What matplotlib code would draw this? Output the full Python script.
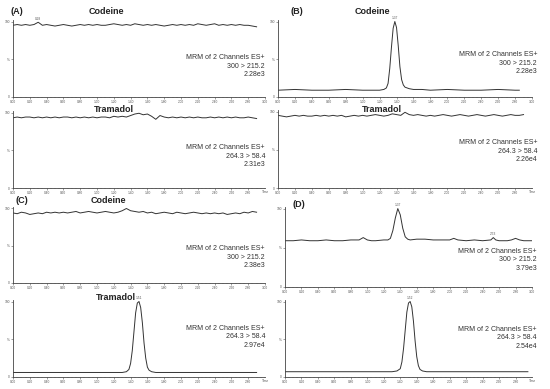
import numpy as np
import matplotlib.pyplot as plt

plt.rcParams['font.family'] = ['Liberation Sans', 'DejaVu Sans']

# chromatogram traces (time in min, intensity in %)
t_base = [0.00, 0.05, 0.10, 0.15, 0.20, 0.25, 0.30, 0.35, 0.40, 0.45,
          0.50, 0.55, 0.60, 0.65, 0.70, 0.75, 0.80, 0.85, 0.90, 0.95,
          1.00, 1.05, 1.10, 1.15, 1.20, 1.25, 1.30, 1.35, 1.40, 1.45,
          1.50, 1.55, 1.60, 1.65, 1.70, 1.75, 1.80, 1.85, 1.90, 1.95,
          2.00, 2.05, 2.10, 2.15, 2.20, 2.25, 2.30, 2.35, 2.40, 2.45,
          2.50, 2.55, 2.60, 2.65, 2.70, 2.75, 2.80, 2.85, 2.90]

a_cod = [95, 96, 95, 96, 95, 96, 99, 95, 96, 95,
         94, 95, 96, 95, 94, 95, 96, 95, 96, 95,
         96, 95, 95, 96, 97, 96, 95, 96, 95, 97,
         96, 95, 96, 95, 96, 95, 94, 95, 96, 95,
         96, 95, 96, 95, 97, 96, 95, 96, 97, 95,
         96, 95, 96, 95, 96, 95, 95, 94, 93]
a_tram = [93, 94, 93, 94, 94, 93, 94, 93, 94, 93,
          94, 93, 94, 94, 93, 94, 93, 94, 93, 94,
          93, 94, 94, 93, 95, 94, 95, 94, 96, 98,
          99, 97, 98, 95, 91, 96, 94, 93, 94, 93,
          94, 93, 94, 93, 94, 93, 93, 94, 93, 94,
          93, 94, 93, 94, 93, 93, 94, 93, 92]
b_tram = [95, 94, 93, 94, 95, 94, 95, 94, 94, 95,
          94, 95, 94, 95, 94, 95, 93, 94, 95, 94,
          95, 94, 95, 96, 95, 94, 95, 97, 96, 95,
          99, 96, 95, 96, 95, 94, 95, 94, 95, 96,
          95, 94, 95, 96, 95, 94, 95, 96, 95, 94,
          95, 96, 95, 94, 95, 96, 95, 95, 96]
c_cod = [94, 93, 95, 94, 92, 93, 94, 93, 95, 94,
         95, 94, 95, 94, 95, 96, 94, 95, 96, 95,
         94, 95, 96, 95, 94, 95, 97, 100, 97, 96,
         95, 96, 94, 95, 93, 94, 95, 94, 93, 95,
         94, 93, 94, 95, 94, 93, 94, 93, 94, 93,
         94, 92, 93, 94, 93, 95, 94, 96, 95]

t_b_cod = [0.0, 0.2, 0.4, 0.6, 0.8, 1.0, 1.1, 1.2, 1.25, 1.28,
           1.30, 1.32, 1.34, 1.36, 1.38, 1.40, 1.42, 1.44, 1.46, 1.48,
           1.50, 1.55, 1.6, 1.7, 1.8, 2.0, 2.2, 2.4, 2.6, 2.8, 2.85]
b_cod = [9, 10, 9, 9, 10, 9, 9, 9, 10, 12,
         18, 38, 66, 91, 100, 92, 68, 40, 23, 16,
         13, 11, 10, 10, 9, 10, 9, 9, 10, 9, 9]

t_c_tram = [0.0, 0.2, 0.4, 0.6, 0.8, 1.0, 1.2, 1.3, 1.35, 1.38,
            1.40, 1.42, 1.44, 1.46, 1.48, 1.50, 1.52, 1.54, 1.56, 1.58,
            1.60, 1.62, 1.65, 1.7, 1.8, 2.0, 2.2, 2.4, 2.6, 2.8, 2.9]
c_tram = [6, 6, 6, 6, 6, 6, 6, 6, 7, 10,
          18, 35, 60, 85, 98, 100, 92, 72, 45, 25,
          13, 9, 7, 6, 6, 6, 6, 6, 6, 6, 6]

t_d_cod = [0.0, 0.1, 0.2, 0.3, 0.4, 0.5, 0.6, 0.7, 0.8, 0.9,
           0.95, 1.0, 1.05, 1.1, 1.2, 1.25, 1.28, 1.31, 1.34, 1.37,
           1.40, 1.43, 1.46, 1.49, 1.52, 1.6, 1.7, 1.8, 1.9, 2.0,
           2.05, 2.1, 2.2, 2.3, 2.4, 2.5, 2.53, 2.56, 2.6, 2.7,
           2.75, 2.8, 2.85, 2.9, 3.0]
d_cod = [59, 59, 60, 59, 59, 60, 59, 59, 60, 60,
         63, 60, 59, 59, 60, 60, 62, 72, 88, 100,
         92, 75, 64, 61, 60, 61, 61, 60, 60, 60,
         62, 60, 59, 60, 59, 60, 63, 60, 59, 59,
         60, 62, 60, 59, 59]

t_d_tram = [0.0, 0.2, 0.4, 0.6, 0.8, 1.0, 1.2, 1.3, 1.36, 1.40,
            1.42, 1.44, 1.46, 1.48, 1.50, 1.52, 1.54, 1.56, 1.58, 1.60,
            1.62, 1.64, 1.67, 1.72, 1.8, 2.0, 2.2, 2.4, 2.6, 2.8, 2.95]
d_tram = [7, 7, 7, 7, 7, 7, 7, 7, 8, 11,
          20, 38, 62, 86, 98, 100, 93, 74, 48, 27,
          15, 10, 8, 7, 7, 7, 7, 7, 7, 7, 7]

# annotation text
mrm_cod = "MRM of 2 Channels ES+\n300 > 215.2\n"
mrm_tram = "MRM of 2 Channels ES+\n264.3 > 58.4\n"
tic = {'A1': '2.28e3', 'A2': '2.31e3', 'B1': '2.28e3', 'B2': '2.26e4',
       'C1': '2.38e3', 'C2': '2.97e4', 'D1': '3.79e3', 'D2': '2.54e4'}

x_ticks = [0.00, 0.20, 0.40, 0.60, 0.80, 1.00, 1.20, 1.40,
           1.60, 1.80, 2.00, 2.20, 2.40, 2.60, 2.80, 3.00]

W, H = 550, 389
fig = plt.figure(figsize=(W/100, H/100), dpi=100)

def make_ax(x0, x1, y0, y1, lower=False):
    # pixel box -> figure fraction
    ax = fig.add_axes([x0/W, 1 - y1/H, (x1 - x0)/W, (y1 - y0)/H])
    ax.set_xlim(0, 3.0)
    ax.set_ylim(0, 102)
    for s in ['top', 'right']:
        ax.spines[s].set_visible(False)
    for s in ['left', 'bottom']:
        ax.spines[s].set_linewidth(0.6)
        ax.spines[s].set_color('#444444')
    ticks = x_ticks[:-1] if lower else x_ticks
    ax.set_xticks(ticks)
    ax.set_xticklabels(['%.2f' % v for v in ticks])
    ax.set_xticks(np.arange(0, 3.01, 0.05), minor=True)
    ax.set_yticks([0, 50, 100])
    ax.set_yticklabels(['0', '%', '100'])
    ax.tick_params(axis='both', which='major', labelsize=2.3, length=1.5,
                   width=0.4, pad=0.8, colors='#555555')
    ax.tick_params(axis='x', which='minor', length=1.0, width=0.3, colors='#777777')
    if lower:
        ax.text(1.0, -0.02, 'Time', transform=ax.transAxes, fontsize=2.3,
                ha='center', va='top', color='#555555')
    return ax

def mrm(ax, txt, x, y):
    ax.text(x, y, txt, transform=ax.transAxes, ha='right', va='center',
            fontsize=5, linespacing=1.3, color='#333333')

def title(ax, txt, x, y):
    ax.text(x, y, txt, transform=ax.transAxes, ha='center', va='center',
            fontsize=6.5, fontweight='bold', color='#222222')

def panel(ax, txt, x, y):
    ax.text(x, y, txt, transform=ax.transAxes, ha='left', va='center',
            fontsize=6.5, fontweight='bold', color='#222222')

def peak_lab(ax, t, y, txt):
    ax.text(t, y + 2, txt, ha='center', va='bottom', fontsize=2.3, color='#555555')

lc = '#333333'
lw = 0.7

# (A)
ax = make_ax(13, 265, 20, 97)
ax.plot(t_base, a_cod, color=lc, lw=lw)
title(ax, 'Codeine', 0.37, 1.11)
panel(ax, '(A)', -0.01, 1.11)
peak_lab(ax, 0.30, 99, '0.28')
mrm(ax, mrm_cod + tic['A1'], 1.0, 0.40)

ax = make_ax(13, 265, 111, 188, lower=True)
ax.plot(t_base, a_tram, color=lc, lw=lw)
title(ax, 'Tramadol', 0.40, 1.02)
mrm(ax, mrm_tram + tic['A2'], 1.0, 0.41)

# (B)
ax = make_ax(278, 532, 20, 97)
ax.plot(t_b_cod, b_cod, color=lc, lw=lw)
title(ax, 'Codeine', 0.37, 1.11)
panel(ax, '(B)', 0.05, 1.11)
peak_lab(ax, 1.38, 100, '1.37')
mrm(ax, mrm_cod + tic['B1'], 1.02, 0.44)

ax = make_ax(278, 532, 110, 188, lower=True)
ax.plot(t_base, b_tram, color=lc, lw=lw)
title(ax, 'Tramadol', 0.41, 1.01)
mrm(ax, mrm_tram + tic['B2'], 1.02, 0.47)

# (C)
ax = make_ax(13, 265, 207, 283)
ax.plot(t_base, c_cod, color=lc, lw=lw)
title(ax, 'Codeine', 0.38, 1.08)
panel(ax, '(C)', 0.01, 1.08)
mrm(ax, mrm_cod + tic['C1'], 1.0, 0.34)

ax = make_ax(13, 265, 300, 377, lower=True)
ax.plot(t_c_tram, c_tram, color=lc, lw=lw)
title(ax, 'Tramadol', 0.41, 1.03)
peak_lab(ax, 1.50, 100, '1.51')
mrm(ax, mrm_tram + tic['C2'], 1.0, 0.52)

# (D)
ax = make_ax(285, 532, 207, 287)
ax.plot(t_d_cod, d_cod, color=lc, lw=lw)
panel(ax, '(D)', 0.03, 1.03)
peak_lab(ax, 1.37, 100, '1.37')
peak_lab(ax, 2.53, 63, '2.53')
mrm(ax, mrm_cod + tic['D1'], 1.02, 0.34)

ax = make_ax(285, 532, 300, 377, lower=True)
ax.plot(t_d_tram, d_tram, color=lc, lw=lw)
peak_lab(ax, 1.52, 100, '1.52')
mrm(ax, mrm_tram + tic['D2'], 1.02, 0.51)

fig.savefig('out.png', dpi=100)
